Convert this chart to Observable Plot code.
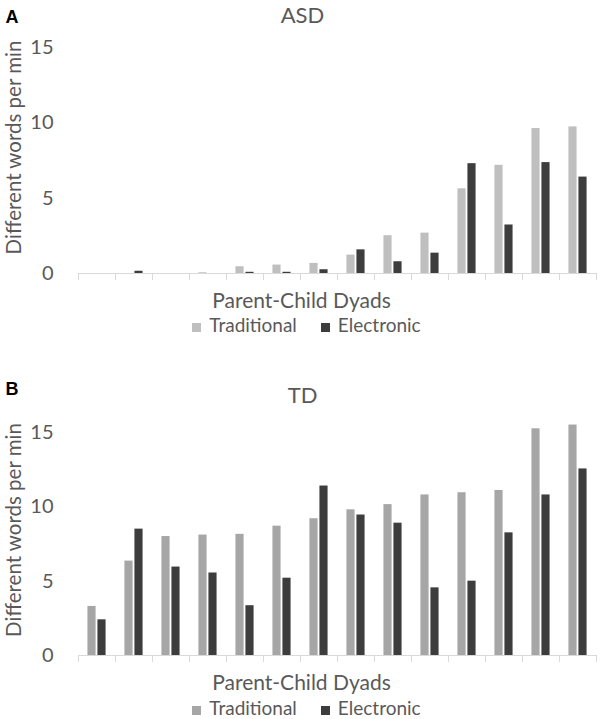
<!DOCTYPE html>
<html><head><meta charset="utf-8">
<script src="https://cdn.jsdelivr.net/npm/d3@7"></script>
<script src="https://cdn.jsdelivr.net/npm/@observablehq/plot@0.6"></script>
<style>
body{margin:0;background:#fff;font-family:Lato,sans-serif;}
#fig{position:relative;width:600px;height:719px;overflow:hidden;background:#fff}
.panel{position:absolute;left:0;width:600px}
.legend{position:absolute;left:0;width:600px;text-align:center;font-size:19px;color:#595959;line-height:normal;white-space:nowrap;box-sizing:border-box;padding-left:13px}
.item{display:inline-block;margin:0 12px}
.sw{display:inline-block;width:9px;height:9px;margin-right:8px}
</style></head><body><div id="fig"></div>
<script>
// ---- data ----
const dyads = [1, 2, 3, 4, 5, 6, 7, 8, 9, 10, 11, 12, 13, 14];
const seriesNames = ["Traditional", "Electronic"];
const asdTraditional = [0, 0, 0, 0.05, 0.45, 0.56, 0.67, 1.22, 2.51, 2.68, 5.62, 7.18, 9.62, 9.73];
const asdElectronic  = [0, 0.15, 0, 0, 0.08, 0.08, 0.25, 1.57, 0.78, 1.35, 7.29, 3.22, 7.36, 6.4];
const tdTraditional  = [3.3, 6.35, 8.0, 8.1, 8.15, 8.7, 9.2, 9.8, 10.15, 10.8, 10.95, 11.1, 15.25, 15.5];
const tdElectronic   = [2.4, 8.5, 5.95, 5.55, 3.35, 5.2, 11.4, 9.45, 8.9, 4.55, 5.0, 8.25, 10.8, 12.55];
const yTicks = [0, 5, 10, 15];
const xLabel = "Parent-Child Dyads";
const yLabel = "Different words per min";

// ---- layout / style ----
const textColor = "#595959";
const axisColor = "#d9d9d9";
const barSpan = {Traditional: [-0.245, -0.025], Electronic: [0.025, 0.245]};
const boundaries = [...dyads.map(d => d - 0.5), dyads[dyads.length - 1] + 0.5];

const panels = [
  {letter: "A", title: "ASD", trad: asdTraditional, elec: asdElectronic,
   colors: ["#bfbfbf", "#3d3d3d"], top: 0, height: 345, marginTop: 47, marginBottom: 72,
   letterDy: -25, titleDy: -25, yLabelDy: -13, xLabelDy: 34, legendTop: 313},
  {letter: "B", title: "TD", trad: tdTraditional, elec: tdElectronic,
   colors: ["#a6a6a6", "#3d3d3d"], top: 360, height: 359, marginTop: 72, marginBottom: 64,
   letterDy: -38, titleDy: -30, yLabelDy: -14, xLabelDy: 34, legendTop: 336}
];

const fig = document.getElementById("fig");
const marginLeft = 78, marginRight = 4;

for (const p of panels) {
  const rows = [];
  dyads.forEach((d, i) => {
    rows.push({dyad: d, series: seriesNames[0], value: p.trad[i]});
    rows.push({dyad: d, series: seriesNames[1], value: p.elec[i]});
  });
  const frameCx = (marginLeft + 600 - marginRight) / 2;
  const chart = Plot.plot({
    width: 600,
    height: p.height,
    marginTop: p.marginTop,
    marginBottom: p.marginBottom,
    marginLeft, marginRight,
    style: {fontFamily: "Lato, sans-serif", background: "#fff", overflow: "visible"},
    x: {type: "linear", domain: [boundaries[0], boundaries[boundaries.length - 1]]},
    y: {domain: [0, 15]},
    color: {domain: seriesNames, range: p.colors},
    marks: [
      Plot.axisY({ticks: yTicks, tickSize: 0, tickPadding: 25, fontSize: 20, fill: textColor, label: null}),
      Plot.axisX({ticks: boundaries, tickSize: 7, tickFormat: () => "", stroke: axisColor, label: null}),
      Plot.rectY(rows, {
        x1: d => d.dyad + barSpan[d.series][0],
        x2: d => d.dyad + barSpan[d.series][1],
        y: "value",
        fill: "series"
      }),
      Plot.ruleY([0], {stroke: axisColor, strokeWidth: 1.2}),
      Plot.text([p.letter], {frameAnchor: "top-left", textAnchor: "start", lineAnchor: "bottom",
        dx: 5 - marginLeft, dy: p.letterDy, fontFamily: "Liberation Sans, Arial, sans-serif",
        fontWeight: "bold", fontSize: 18, fill: "#000"}),
      Plot.text([p.title], {frameAnchor: "top", lineAnchor: "bottom", dx: 302 - frameCx, dy: p.titleDy,
        fontSize: 22, fill: textColor}),
      Plot.text([yLabel], {frameAnchor: "left", rotate: -90, lineAnchor: "bottom", textAnchor: "middle",
        dx: 20 - marginLeft, dy: p.yLabelDy, fontSize: 20.5, fill: textColor}),
      Plot.text([xLabel], {frameAnchor: "bottom", lineAnchor: "bottom", dx: 301 - frameCx, dy: p.xLabelDy,
        fontSize: 21, fill: textColor})
    ]
  });
  const wrap = document.createElement("div");
  wrap.className = "panel";
  wrap.style.top = p.top + "px";
  wrap.style.height = p.height + "px";
  wrap.appendChild(chart);
  const legend = document.createElement("div");
  legend.className = "legend";
  legend.style.top = p.legendTop + "px";
  seriesNames.forEach((s, i) => {
    const item = document.createElement("span");
    item.className = "item";
    const sw = document.createElement("span");
    sw.className = "sw";
    sw.style.background = p.colors[i];
    item.appendChild(sw);
    item.appendChild(document.createTextNode(s));
    legend.appendChild(item);
  });
  wrap.appendChild(legend);
  fig.appendChild(wrap);
}
</script></body></html>
